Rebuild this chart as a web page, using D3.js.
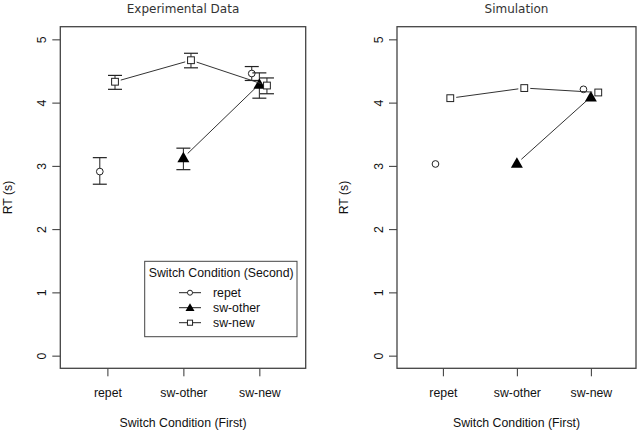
<!DOCTYPE html>
<html lang="en">
<head>
<meta charset="UTF-8">
<title>RT by switch condition</title>
<script src="https://d3js.org/d3.v7.min.js"></script>
<style>
    body { margin: 0; background: white; }
    text { font-family: "Liberation Sans", Arial, sans-serif; font-size: 12.3px; fill: #111; }
    .title { font-family: "DejaVu Sans", sans-serif; font-size: 12px; fill: #333; }
</style>
</head>
<body>
<div id="chart"></div>
<script>
// categories on the x axis (first switch condition)
const categories = ["repet", "sw-other", "sw-new"];
// series (second switch condition)
const seriesNames = ["repet", "sw-other", "sw-new"];
const yTicks = [0, 1, 2, 3, 4, 5];

// experimental data: means and error bar ends (null = no point)
const expRepet = [2.91, null, 4.46];
const expRepetLo = [2.71, null, 4.35];
const expRepetHi = [3.13, null, 4.57];
const expOther = [null, 3.13, 4.29];
const expOtherLo = [null, 2.94, 4.07];
const expOtherHi = [null, 3.28, 4.47];
const expNew = [4.33, 4.67, 4.27];
const expNewLo = [4.21, 4.55, 4.14];
const expNewHi = [4.43, 4.78, 4.39];

// simulation
const simRepet = [3.03, null, 4.21];
const simOther = [null, 3.04, 4.09];
const simNew = [4.07, 4.23, 4.16];

const W = 640, H = 434;
const svg = d3.select("#chart").append("svg")
    .attr("width", W).attr("height", H);

const offsets = [-0.1, 0, 0.1];

function symbol(g, type, x, y, size) {
    if (type === 0) {
        g.append("circle").attr("cx", x).attr("cy", y).attr("r", size * 0.42)
            .attr("fill", "white").attr("stroke", "#222").attr("stroke-width", 1);
    } else if (type === 1) {
        const s = size * 1.25;
        g.append("path")
            .attr("d", `M${x},${y - s * 0.6}L${x + s * 0.6},${y + s * 0.45}L${x - s * 0.6},${y + s * 0.45}Z`)
            .attr("fill", "black");
    } else {
        const s = size * 0.85;
        g.append("rect").attr("x", x - s / 2).attr("y", y - s / 2)
            .attr("width", s).attr("height", s)
            .attr("fill", "white").attr("stroke", "#222").attr("stroke-width", 1);
    }
}

function drawPanel(p) {
    const g = svg.append("g");
    const x = d3.scaleLinear().domain([0.38, 3.61]).range([p.left, p.right]);
    const y = d3.scaleLinear().domain([-0.2, 5.2]).range([368.3, 26.7]);

    // y axis
    const ya = g.append("g").attr("transform", `translate(${p.left},0)`)
        .call(d3.axisLeft(y).tickValues(yTicks).tickSize(8).tickPadding(0).tickFormat(d3.format("d")));
    ya.select(".domain").remove();
    ya.selectAll("line").attr("stroke", "#333");
    ya.selectAll("text").attr("x", null).attr("dy", null)
        .attr("text-anchor", "middle")
        .attr("transform", "translate(-18,0) rotate(-90) translate(0,4)");

    // x axis
    const xa = g.append("g").attr("transform", "translate(0,368.3)")
        .call(d3.axisBottom(x).tickValues([1, 2, 3]).tickSize(8).tickPadding(12)
            .tickFormat(d => categories[d - 1]));
    xa.select(".domain").remove();
    xa.selectAll("line").attr("stroke", "#333");

    // box
    g.append("rect").attr("x", p.left).attr("y", 26.7)
        .attr("width", p.right - p.left).attr("height", 368.3 - 26.7)
        .attr("fill", "none").attr("stroke", "#444").attr("stroke-width", 1.3);

    const cx = (p.left + p.right) / 2;
    g.append("text").attr("class", "title").attr("x", cx).attr("y", 12.5)
        .attr("text-anchor", "middle").text(p.title);
    g.append("text").attr("x", cx).attr("y", 427)
        .attr("text-anchor", "middle").text("Switch Condition (First)");
    g.append("text").attr("transform", `translate(${p.ylabX},197.5) rotate(-90)`)
        .attr("text-anchor", "middle").text("RT (s)");

    p.series.forEach((s, si) => {
        const pts = [];
        s.vals.forEach((v, i) => {
            if (v !== null) pts.push([x(i + 1 + offsets[si]), y(v), i]);
        });
        // lines between consecutive categories, with gaps at points (type "b")
        for (let k = 0; k < pts.length - 1; k++) {
            const a = pts[k], b = pts[k + 1];
            if (b[2] - a[2] !== 1) continue;
            const dx = b[0] - a[0], dy = b[1] - a[1];
            const len = Math.hypot(dx, dy), gap = 6;
            g.append("line")
                .attr("x1", a[0] + dx / len * gap).attr("y1", a[1] + dy / len * gap)
                .attr("x2", b[0] - dx / len * gap).attr("y2", b[1] - dy / len * gap)
                .attr("stroke", "#333").attr("stroke-width", 1);
        }
        // error bars
        if (s.lo) {
            s.vals.forEach((v, i) => {
                if (v === null) return;
                const px = x(i + 1 + offsets[si]);
                const cap = 7;
                g.append("line").attr("x1", px).attr("x2", px)
                    .attr("y1", y(s.lo[i])).attr("y2", y(s.hi[i]))
                    .attr("stroke", "#222");
                [s.lo[i], s.hi[i]].forEach(e => {
                    g.append("line").attr("x1", px - cap).attr("x2", px + cap)
                        .attr("y1", y(e)).attr("y2", y(e))
                        .attr("stroke", "#222").attr("stroke-width", 1.2);
                });
            });
        }
        pts.forEach(pt => symbol(g, si, pt[0], pt[1], 8));
    });
    return { x, y };
}

drawPanel({
    left: 60.3, right: 305.7, ylabX: 12, title: "Experimental Data",
    series: [
        { vals: expRepet, lo: expRepetLo, hi: expRepetHi },
        { vals: expOther, lo: expOtherLo, hi: expOtherHi },
        { vals: expNew, lo: expNewLo, hi: expNewHi }
    ]
});
drawPanel({
    left: 397, right: 636, ylabX: 348, title: "Simulation",
    series: [{ vals: simRepet }, { vals: simOther }, { vals: simNew }]
});

// legend
const lg = svg.append("g");
lg.append("rect").attr("x", 144.7).attr("y", 261.3).attr("width", 152.3).attr("height", 75.4)
    .attr("fill", "white").attr("stroke", "#444").attr("stroke-width", 1);
lg.append("text").attr("x", 148.7).attr("y", 277).text("Switch Condition (Second)");
seriesNames.forEach((n, i) => {
    const ly = 292.7 + i * 15;
    lg.append("line").attr("x1", 179).attr("x2", 201).attr("y1", ly).attr("y2", ly)
        .attr("stroke", "#222");
    symbol(lg, i, 190, ly, 6);
    lg.append("text").attr("x", 213).attr("y", ly + 4.5).text(n);
});
</script>
</body>
</html>
